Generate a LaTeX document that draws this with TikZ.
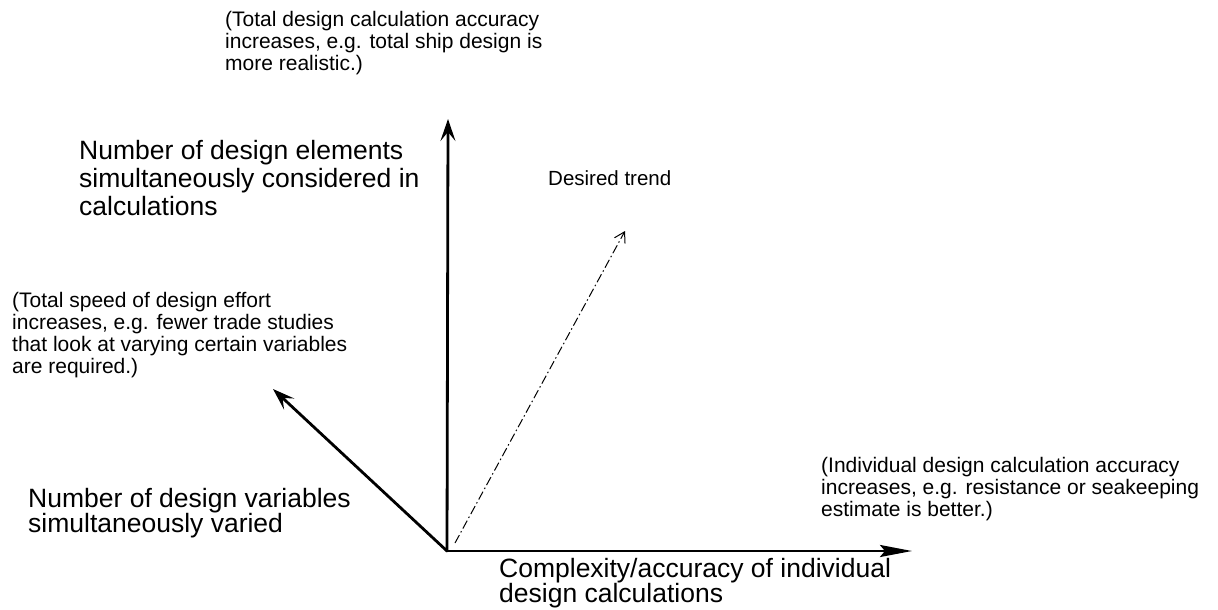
\documentclass[tikz,border=0pt]{standalone}
\usepackage{fontspec}
\setmainfont{Liberation Sans}
\usetikzlibrary{arrows.meta}
\begin{document}
\begin{tikzpicture}[x=1pt,y=-1pt,
  small/.style={font=\fontsize{21}{22}\selectfont, align=left, anchor=north west, inner sep=0pt},
  big/.style={font=\fontsize{26.5}{25}\selectfont, align=left, anchor=north west, inner sep=0pt},
  axisline/.style={line width=2.8pt, line cap=round},
  axishead/.style={-{Stealth[length=22pt,width=15pt,inset=9pt]}},
  longhead/.style={-{Stealth[length=32pt,width=12pt,inset=5pt]}},
  trend/.style={line width=1pt, dash pattern=on 9pt off 3pt on 1.5pt off 3pt,
                -{Straight Barb[length=10pt,width=12pt]}}]
\useasboundingbox (0,0) rectangle (1218,610);
% axes
\coordinate (O) at (447,551);
\coordinate (V) at (448,119);
\coordinate (L) at (273,389);
\coordinate (H) at (912,551);
\coordinate (T0) at (455,543);
\coordinate (T1) at (625,231);
\draw[axisline,axishead] (O) -- (V);
\draw[axisline,axishead] (O) -- (L);
\draw[axisline,longhead] (O) -- (H);
\draw[trend] (T0) -- (T1);
% texts
\node[small] (toptext) at (225,11.5) {(Total design calculation accuracy\\increases, e.g. total ship design is\\more realistic.)};
\node[big, font=\fontsize{26.5}{28}\selectfont] (elements) at (79,140) {Number of design elements\\simultaneously considered in\\calculations};
\node[small, font=\fontsize{20.5}{22}\selectfont] (trendlabel) at (548,170) {Desired trend};
\node[small] (speedtext) at (12,292) {(Total speed of design effort\\increases, e.g. fewer trade studies\\that look at varying certain variables\\are required.)};
\node[big] (variables) at (28,488) {Number of design variables\\simultaneously varied};
\node[small] (indivtext) at (821,457) {(Individual design calculation accuracy\\increases, e.g. resistance or seakeeping\\estimate is better.)};
\node[big] (complexity) at (499,558) {Complexity/accuracy of individual\\design calculations};
\end{tikzpicture}
\end{document}
